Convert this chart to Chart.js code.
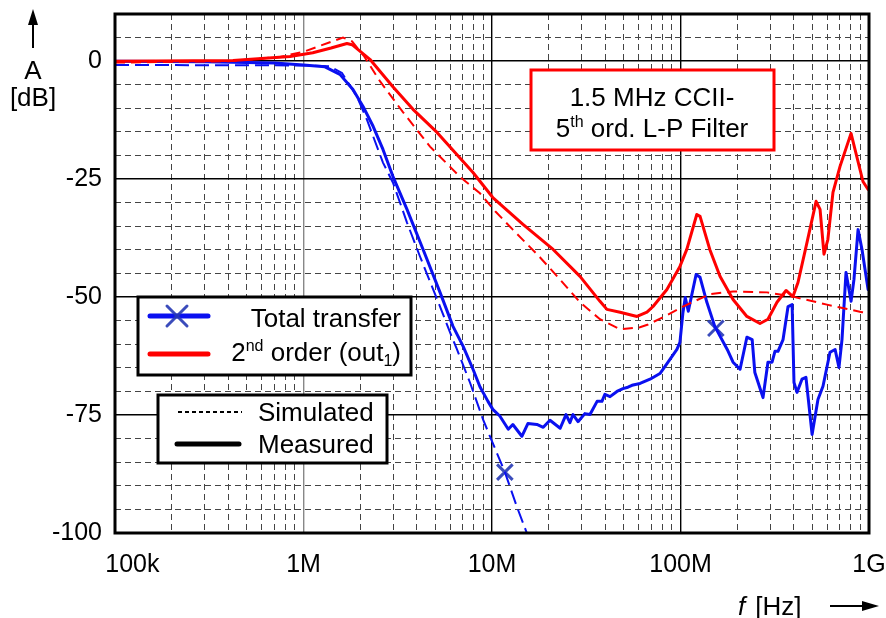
<!DOCTYPE html>
<html>
<head>
<meta charset="utf-8">
<script src="https://cdn.jsdelivr.net/npm/chart.js@4.4.1/dist/chart.umd.min.js"></script>
<style>
  html, body { margin: 0; padding: 0; background: #fff; }
  #wrap { width: 886px; height: 618px; }
</style>
</head>
<body>
<div id="wrap"><canvas id="c"></canvas></div>
<script>
// frequencies in Hz, amplitudes in dB
const totalMeasFreq = [1e5, 3e5, 7e5, 1e6, 1.3e6, 1.56e6, 1.83e6, 2.07e6, 2.34e6, 2.64e6, 2.98e6, 3.54e6, 4.31e6, 5.3e6, 6.21e6, 7.02e6, 7.93e6, 8.63e6, 9.52e6, 10.1e6, 11.0e6, 12.2e6, 12.9e6, 14.4e6, 15.5e6, 17.3e6, 18.7e6, 20.3e6, 23.0e6, 24.7e6, 25.9e6, 26.9e6, 28.6e6, 31.1e6, 33.1e6, 36.1e6, 38.3e6, 39.7e6, 42.3e6, 46.0e6, 49.5e6, 52.6e6, 55.3e6, 61e6, 68.9e6, 77.8e6, 80.7e6, 87.9e6, 95.7e6, 99.3e6, 103e6, 106e6, 110e6, 121e6, 127e6, 138e6, 152e6, 177e6, 190e6, 207e6, 225e6, 240e6, 248e6, 274e6, 291e6, 306e6, 317e6, 329e6, 350e6, 372e6, 391e6, 400e6, 415e6, 441e6, 463e6, 499e6, 536e6, 570e6, 621e6, 661e6, 693e6, 719e6, 755e6, 803e6, 832e6, 875e6, 918e6, 989e6];
const totalMeasDb = [0, -0.1, -0.4, -0.8, -1.2, -2.8, -6.0, -9.6, -13.8, -18.7, -24.4, -31.4, -39.9, -49.0, -56.2, -60.4, -65.3, -69.0, -72.1, -73.8, -75.2, -78.0, -77.0, -79.5, -76.8, -77.0, -77.6, -76.1, -77.8, -74.9, -76.6, -74.9, -76.4, -74.7, -74.9, -72.1, -72.1, -70.6, -71.1, -70.0, -69.4, -69.1, -68.7, -68.3, -67.4, -66.2, -65.3, -63.2, -61.1, -59.6, -53.3, -50.1, -53.0, -45.2, -45.8, -51.1, -56.2, -61.1, -63.8, -65.3, -58.5, -59.0, -66.0, -71.3, -63.8, -63.8, -61.5, -61.5, -59.0, -52.0, -51.6, -68.1, -70.2, -67.4, -67.0, -79.1, -71.7, -68.9, -61.7, -61.1, -64.9, -59.0, -44.8, -50.9, -46.3, -35.7, -39.9, -48.4];

const totalSimFreq = [1e5, 1e6, 1.38e6, 1.6e6, 1.92e6, 2.17e6, 2.64e6, 2.98e6, 3.54e6, 4.15e6, 5.3e6, 5.99e6, 6.52e6, 7.64e6, 8.96e6, 9.75e6, 11.7e6, 13.6e6, 15.3e6];
const totalSimDb = [-0.8, -0.9, -1.1, -2.5, -7.5, -12.4, -21.5, -25.7, -34.2, -41.4, -52.0, -57.5, -61.1, -68.1, -75.9, -79.5, -87.1, -94.6, -100];

const out1MeasFreq = [1e5, 423e3, 848e3, 1.12e6, 1.4e6, 1.7e6, 1.81e6, 2.25e6, 2.98e6, 3.81e6, 5.11e6, 7.93e6, 10.1e6, 14.6e6, 21.1e6, 29.3e6, 37.4e6, 40.7e6, 47.8e6, 58.8e6, 66.4e6, 71.5e6, 84.7e6, 99.3e6, 108e6, 122e6, 127e6, 143e6, 162e6, 190e6, 225e6, 264e6, 291e6, 325e6, 363e6, 395e6, 420e6, 469e6, 524e6, 550e6, 577e6, 605e6, 644e6, 702e6, 803e6, 929e6, 989e6];
const out1MeasDb = [0, 0.15, 1.0, 1.8, 2.8, 3.75, 3.5, 0.4, -5.4, -10.2, -15.1, -23.6, -28.9, -34.6, -39.9, -45.6, -50.9, -52.6, -53.2, -54.1, -53.2, -52.0, -48.4, -43.5, -39.9, -32.5, -32.9, -39.9, -45.6, -50.5, -54.1, -55.6, -54.7, -51.1, -48.6, -49.9, -46.9, -38.4, -29.7, -31.4, -40.9, -37.8, -27.8, -22.3, -15.3, -25.5, -27.2];

const out1SimFreq = [1e5, 4e5, 750e3, 1e6, 1.38e6, 1.62e6, 1.81e6, 2.1e6, 2.55e6, 3.37e6, 4.69e6, 6.76e6, 8.63e6, 10.4e6, 12.9e6, 18e6, 23e6, 29.3e6, 37.4e6, 47.8e6, 61e6, 67.3e6, 80.7e6, 103e6, 143e6, 190e6, 288e6, 395e6, 598e6, 918e6, 989e6];
const out1SimDb = [-0.3, 0, 0.9, 2.0, 4.0, 5.0, 4.2, 1.0, -4.3, -10.8, -18.1, -24.5, -28.0, -31.8, -35.7, -41.6, -46.3, -51.1, -54.7, -56.8, -56.4, -55.8, -54.3, -52.0, -49.4, -48.8, -49.0, -49.9, -51.6, -53.2, -53.4];

// the two "X" markers sitting on the blue curves
const markerFreq = [11.7e6, 154e6];
const markerDb = [-87.1, -56.6];

const xLabelValues = [1e5, 1e6, 1e7, 1e8, 1e9];
const xLabels = ['     100k', '1M', '10M', '100M', '1G'];
const yLabelValues = [-100, -75, -50, -25, 0];

const BLUE = '#0a10f0';
const RED = '#ff0000';
const MARK = 'rgba(38,56,180,0.9)';
const FONT = '"Liberation Sans", Arial, sans-serif';

Chart.defaults.font.family = FONT;
Chart.defaults.color = '#000';

function pts(fs, vs) {
  return fs.map((f, i) => ({ x: f, y: vs[i] }));
}

function isDecade(v) {
  const e = Math.log10(v);
  return Math.abs(e - Math.round(e)) < 1e-6;
}

// minor grid: 1..9 per decade, 5 dB steps
const xGrid = [];
for (let e = 5; e < 9; e++) for (let d = 1; d <= 9; d++) xGrid.push(d * Math.pow(10, e));
xGrid.push(1e9);
const yGrid = [];
for (let v = -100; v <= 10; v += 5) yGrid.push(v);

function drawRich(ctx, parts, x, y, align) {
  // parts: [text, size, dy]
  let w = 0;
  for (const p of parts) { ctx.font = p[1] + 'px ' + FONT; w += ctx.measureText(p[0]).width; }
  let cx = align === 'right' ? x - w : align === 'center' ? x - w / 2 : x;
  ctx.textAlign = 'left';
  ctx.textBaseline = 'alphabetic';
  for (const p of parts) {
    ctx.font = p[1] + 'px ' + FONT;
    ctx.fillText(p[0], cx, y + p[2]);
    cx += ctx.measureText(p[0]).width;
  }
}

function drawCross(ctx, x, y, r, color, lw) {
  ctx.save();
  ctx.strokeStyle = color; ctx.lineWidth = lw;
  ctx.beginPath();
  ctx.moveTo(x - r, y - r); ctx.lineTo(x + r, y + r);
  ctx.moveTo(x + r, y - r); ctx.lineTo(x - r, y + r);
  ctx.stroke();
  ctx.restore();
}

const decorations = {
  id: 'decorations',
  afterDatasetsDraw(chart) {
    const { ctx, chartArea: a } = chart;
    ctx.save();
    // frame
    ctx.strokeStyle = '#000';
    ctx.lineWidth = 3;
    ctx.strokeRect(a.left, a.top, a.right - a.left, a.bottom - a.top);

    // annotation box
    ctx.fillStyle = '#fff';
    ctx.fillRect(531, 70, 243, 80);
    ctx.strokeStyle = RED; ctx.lineWidth = 3;
    ctx.strokeRect(531, 70, 243, 80);
    ctx.fillStyle = '#000';
    drawRich(ctx, [['1.5 MHz CCII-', 26, 0]], 652, 106, 'center');
    drawRich(ctx, [['5', 26, 0], ['th', 16, -10], [' ord. L-P Filter', 26, 0]], 652, 137, 'center');

    // legend: curves
    ctx.fillStyle = '#fff';
    ctx.fillRect(138, 297, 273, 78);
    ctx.strokeStyle = '#000'; ctx.lineWidth = 3;
    ctx.strokeRect(138, 297, 273, 78);
    ctx.lineCap = 'round';
    ctx.lineWidth = 5;
    ctx.strokeStyle = BLUE;
    ctx.beginPath(); ctx.moveTo(150, 316); ctx.lineTo(208, 316); ctx.stroke();
    drawCross(ctx, 177, 316, 10, MARK, 3);
    ctx.strokeStyle = RED;
    ctx.beginPath(); ctx.moveTo(150, 354); ctx.lineTo(208, 354); ctx.stroke();
    ctx.fillStyle = '#000';
    drawRich(ctx, [['Total transfer', 26, 0]], 401, 327, 'right');
    drawRich(ctx, [['2', 26, 0], ['nd', 16, -10], [' order (out', 26, 0], ['1', 16, 5], [')', 26, 0]], 401, 361, 'right');

    // legend: line styles
    ctx.fillStyle = '#fff';
    ctx.fillRect(158, 395, 229, 68);
    ctx.strokeStyle = '#000'; ctx.lineWidth = 3; ctx.lineCap = 'butt';
    ctx.strokeRect(158, 395, 229, 68);
    ctx.lineWidth = 2;
    ctx.setLineDash([4, 3]);
    ctx.beginPath(); ctx.moveTo(178, 412); ctx.lineTo(242, 412); ctx.stroke();
    ctx.setLineDash([]);
    ctx.lineWidth = 5; ctx.lineCap = 'round';
    ctx.beginPath(); ctx.moveTo(177, 444); ctx.lineTo(239, 444); ctx.stroke();
    ctx.fillStyle = '#000';
    drawRich(ctx, [['Simulated', 26, 0]], 258, 421, 'left');
    drawRich(ctx, [['Measured', 26, 0]], 258, 453, 'left');

    // axis names with arrows
    ctx.lineCap = 'butt';
    ctx.lineWidth = 2;
    ctx.strokeStyle = '#000';
    ctx.beginPath(); ctx.moveTo(33, 48); ctx.lineTo(33, 22); ctx.stroke();
    ctx.beginPath(); ctx.moveTo(33, 9); ctx.lineTo(28, 25); ctx.lineTo(38, 25); ctx.closePath(); ctx.fill();
    drawRich(ctx, [['A', 26, 0]], 33, 79, 'center');
    drawRich(ctx, [['[dB]', 26, 0]], 33, 106, 'center');

    ctx.beginPath(); ctx.moveTo(830, 606); ctx.lineTo(864, 606); ctx.stroke();
    ctx.beginPath(); ctx.moveTo(879, 606); ctx.lineTo(862, 601); ctx.lineTo(862, 611); ctx.closePath(); ctx.fill();
    ctx.font = 'italic 26px ' + FONT;
    ctx.textAlign = 'left'; ctx.textBaseline = 'alphabetic';
    ctx.fillText('f', 738, 615);
    drawRich(ctx, [[' [Hz]', 26, 0]], 748, 615, 'left');
    ctx.restore();
  }
};

new Chart(document.getElementById('c'), {
  type: 'line',
  data: {
    datasets: [
      { data: pts(out1SimFreq, out1SimDb), borderColor: RED, borderWidth: 2, borderDash: [10, 6] },
      { data: pts(totalSimFreq, totalSimDb), borderColor: BLUE, borderWidth: 2, borderDash: [14, 6] },
      { data: pts(out1MeasFreq, out1MeasDb), borderColor: RED, borderWidth: 3, borderJoinStyle: 'round', borderCapStyle: 'round' },
      { data: pts(totalMeasFreq, totalMeasDb), borderColor: BLUE, borderWidth: 3, borderJoinStyle: 'round', borderCapStyle: 'round' },
      { data: pts(markerFreq, markerDb), showLine: false, pointStyle: 'crossRot', pointRadius: 11, borderColor: MARK, backgroundColor: MARK, pointBorderWidth: 3 }
    ]
  },
  options: {
    responsive: true,
    maintainAspectRatio: false,
    animation: false,
    layout: { padding: { top: 14, right: 17, left: 0, bottom: 0 } },
    elements: { point: { radius: 0 }, line: { tension: 0, fill: false } },
    plugins: { legend: { display: false }, tooltip: { enabled: false } },
    scales: {
      x: {
        type: 'logarithmic',
        min: 1e5, max: 1e9,
        afterBuildTicks: s => { s.ticks = xGrid.map(v => ({ value: v })); },
        afterFit: s => { s.height = 85; s.paddingLeft = 0; s.paddingRight = 0; },
        ticks: {
          autoSkip: false, maxRotation: 0, padding: 17,
          font: { size: 25 }, color: '#000',
          callback: v => {
            const i = xLabelValues.findIndex(d => Math.abs(d - v) / d < 1e-6);
            return i >= 0 ? xLabels[i] : '';
          }
        },
        grid: {
          drawTicks: false,
          color: c => !c.tick ? '#444' : Math.abs(c.tick.value - 1e6) < 1 ? '#888' : isDecade(c.tick.value) ? '#000' : '#444',
          lineWidth: c => (c.tick && isDecade(c.tick.value) ? 1.4 : 1)
        },
        border: { display: false, dash: c => (c.tick && isDecade(c.tick.value) ? [] : [6, 4]) }
      },
      y: {
        min: -100, max: 10,
        afterBuildTicks: s => { s.ticks = yGrid.map(v => ({ value: v })); },
        afterFit: s => { s.width = 115; s.paddingTop = 0; s.paddingBottom = 0; },
        ticks: {
          autoSkip: false, padding: 13,
          font: { size: 25 }, color: '#000',
          callback: v => (yLabelValues.includes(v) ? String(v) : '')
        },
        grid: {
          drawTicks: false,
          color: c => (c.tick && yLabelValues.includes(c.tick.value) ? '#000' : '#444'),
          lineWidth: c => (c.tick && yLabelValues.includes(c.tick.value) ? 1.4 : 1)
        },
        border: { display: false, dash: c => (c.tick && yLabelValues.includes(c.tick.value) ? [] : [6, 4]) }
      }
    }
  },
  plugins: [decorations]
});
</script>
</body>
</html>
